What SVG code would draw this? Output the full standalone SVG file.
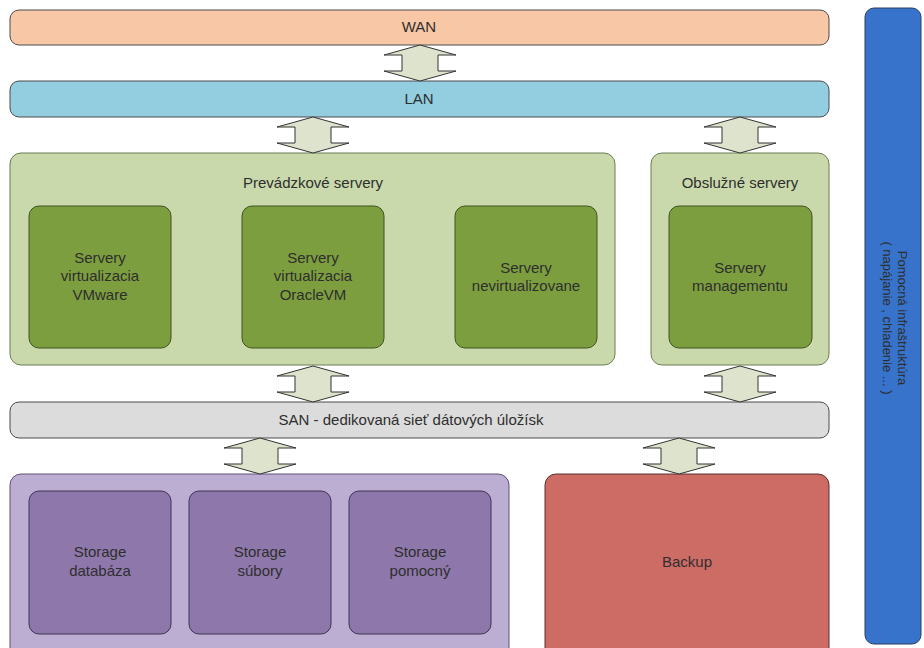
<svg xmlns="http://www.w3.org/2000/svg" width="924" height="648" viewBox="0 0 924 648">
  <style>
    text { font-family: "Liberation Sans", Arial, sans-serif; font-size: 15px; fill: #2e2e2e; text-anchor: middle; }
    .side { font-size: 13px; }
    .box { stroke: #4a4a4a; stroke-width: 1; }
    .wan { fill: #f8c7a6; }
    .lan { fill: #93cde0; }
    .grp-green { fill: #c9d9ab; stroke: #6d7d52; stroke-width: 1; }
    .srv { fill: #7d9e3f; stroke: #3f5320; stroke-width: 1; }
    .san { fill: #dcdcdc; }
    .grp-purple { fill: #bcaed2; stroke: #5d5070; stroke-width: 1; }
    .stor { fill: #8e78ab; stroke: #3f3350; stroke-width: 1; }
    .backup { fill: #cd6b65; stroke: #5a3030; stroke-width: 1; }
    .infra { fill: #3773cb; stroke: #2a3f60; stroke-width: 1; }
    .link { fill: #dde3cc; stroke: #333; stroke-width: 1; stroke-linejoin: miter; }
  </style>
  <defs>
    <!-- bidirectional block arrow, 36px tall, top tip at origin -->
    <path id="dbl" class="link" d="M0,0 L36,10 L18,10 L18,26 L36,26 L0,36 L-36,26 L-18,26 L-18,10 L-36,10 Z"/>
  </defs>

  <rect width="924" height="648" fill="#ffffff"/>

  <g id="wan">
    <rect class="box wan" x="10" y="10" width="819" height="35" rx="9"/>
    <text x="419" y="32">WAN</text>
  </g>

  <g id="lan">
    <rect class="box lan" x="10" y="81" width="819" height="36" rx="9"/>
    <text x="419" y="104">LAN</text>
  </g>

  <g id="prevadzkove">
    <rect class="grp-green" x="10" y="153" width="605" height="212" rx="11"/>
    <text x="313" y="188">Prevádzkové servery</text>
  </g>

  <g id="vmware">
    <rect class="srv" x="29" y="206" width="142" height="142" rx="10"/>
    <text x="100" y="263">Servery</text>
    <text x="100" y="281">virtualizacia</text>
    <text x="100" y="300">VMware</text>
  </g>

  <g id="oraclevm">
    <rect class="srv" x="242" y="206" width="142" height="142" rx="10"/>
    <text x="313" y="263">Servery</text>
    <text x="313" y="281">virtualizacia</text>
    <text x="313" y="300">OracleVM</text>
  </g>

  <g id="nevirtualizovane">
    <rect class="srv" x="455" y="206" width="142" height="142" rx="10"/>
    <text x="526" y="273">Servery</text>
    <text x="526" y="291">nevirtualizovane</text>
  </g>

  <g id="obsluzne">
    <rect class="grp-green" x="651" y="153" width="178" height="212" rx="11"/>
    <text x="740" y="188">Obslužné servery</text>
  </g>

  <g id="management">
    <rect class="srv" x="669" y="206" width="143" height="142" rx="10"/>
    <text x="740" y="273">Servery</text>
    <text x="740" y="291">managementu</text>
  </g>

  <g id="san">
    <rect class="box san" x="10" y="402" width="819" height="36" rx="9"/>
    <text x="411" y="425">SAN - dedikovaná sieť dátových úložísk</text>
  </g>

  <g id="storage">
    <rect class="grp-purple" x="10" y="474" width="499" height="190" rx="11"/>
  </g>

  <g id="storage-databaza">
    <rect class="stor" x="29" y="491" width="142" height="143" rx="10"/>
    <text x="100" y="557">Storage</text>
    <text x="100" y="576">databáza</text>
  </g>

  <g id="storage-subory">
    <rect class="stor" x="189" y="491" width="142" height="143" rx="10"/>
    <text x="260" y="557">Storage</text>
    <text x="260" y="576">súbory</text>
  </g>

  <g id="storage-pomocny">
    <rect class="stor" x="349" y="491" width="142" height="143" rx="10"/>
    <text x="420" y="557">Storage</text>
    <text x="420" y="576">pomocný</text>
  </g>

  <g id="backup">
    <rect class="backup" x="545" y="474" width="284" height="190" rx="11"/>
    <text x="687" y="567">Backup</text>
  </g>

  <g id="infrastruktura">
    <rect class="infra" x="865" y="8" width="56" height="636" rx="9"/>
    <g transform="translate(895,318) rotate(90)">
      <text class="side" x="0" y="-3">Pomocná infraštruktúra</text>
      <text class="side" x="0" y="12">( napájanie , chladenie ... )</text>
    </g>
  </g>

  <g id="connectors">
    <use href="#dbl" x="420" y="45"/>
    <use href="#dbl" x="313" y="117"/>
    <use href="#dbl" x="740" y="117"/>
    <use href="#dbl" x="313" y="366"/>
    <use href="#dbl" x="740" y="366"/>
    <use href="#dbl" x="260" y="438"/>
    <use href="#dbl" x="679" y="438"/>
  </g>
</svg>
